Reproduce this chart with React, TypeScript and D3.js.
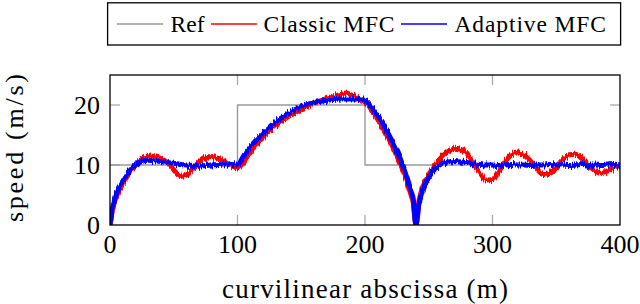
import React from "react";
import * as d3 from "d3";

// curvilinear abscissa (m) at which the speeds were read
const abscissa = [
  0, 2, 5, 10, 15, 20, 25, 30, 35, 40, 45, 50, 55, 60, 65, 70, 75, 80, 85, 90, 95, 100,
  105, 110, 115, 120, 125, 130, 135, 140, 145, 150, 155, 160, 165, 170, 175, 180, 185, 190, 195, 200,
  205, 210, 215, 220, 225, 230, 235, 238, 240, 242, 245,
  250, 255, 260, 265, 270, 275, 280, 285, 290, 295, 300, 305, 310, 315, 320, 325, 330, 335, 340,
  345, 350, 355, 360, 365, 370, 375, 380, 385, 390, 395, 400,
];

const classicMFC = [
  0, 2.6, 4.6, 6.9, 8.6, 10, 11, 11.5, 11.4, 11.1, 10.4, 9.2, 8.1, 8.3, 9.4, 10.5, 11.2, 11.4, 11.1, 10.6, 10, 9.5,
  10.6, 12.2, 13.5, 14.6, 15.7, 16.6, 17.4, 18.1, 18.7, 19.3, 19.8, 20.3, 20.7, 21.1, 21.5, 21.9, 22, 21.6, 21, 20.5,
  19.3, 17.6, 15.8, 13.8, 11.5, 9, 5.8, 3.4, 0, 3.5, 6.2,
  8.4, 10, 11.3, 12.2, 12.8, 12.6, 11.8, 10.3, 8.8, 7.5, 7.6, 8.9, 10.6, 11.7, 12, 11.6, 10.6, 9.3, 8.4,
  8.6, 9.7, 10.9, 11.7, 11.8, 11.1, 10, 9.1, 8.6, 8.8, 9.6, 10,
];

const adaptiveMFC = [
  0, 3, 5.2, 7.3, 8.9, 10, 10.6, 10.8, 10.7, 10.6, 10.4, 10.3, 10.1, 10, 9.9, 9.8, 9.9, 10, 10.1, 10.2, 10.1, 10,
  11.6, 13, 14.2, 15.3, 16.3, 17.2, 17.9, 18.6, 19.2, 19.7, 20.1, 20.4, 20.6, 20.8, 20.9, 21, 21, 21, 20.9, 20.8,
  19.8, 18.3, 16.5, 14.5, 12.3, 9.8, 6.5, 4, 0, 3, 5.6,
  7.9, 9.4, 10.2, 10.5, 10.6, 10.5, 10.4, 10.2, 10.1, 10, 10, 9.9, 10, 10.1, 10, 10, 9.9, 10, 10,
  10.1, 10, 10, 9.9, 10, 10.1, 10, 10, 9.9, 10, 10.1, 10,
];

// reference speed: piecewise constant, value holds from each break on
const refBreaks = [0, 100, 200, 400];
const refSpeed = [10, 20, 10, 10];

const xTicks = [0, 100, 200, 300, 400];
const yTicks = [0, 10, 20];

const legendItems = [
  { label: "Ref", color: "#999999", x0: 117, text: 170.5, len: 34 },
  { label: "Classic MFC", color: "#ff0000", x0: 211, text: 263.5, len: 131 },
  { label: "Adaptive MFC", color: "#0000ff", x0: 401, text: 454.5, len: 151.5 },
];

const FONT = "'Liberation Serif', 'Times New Roman', serif";

export default function App() {
  const L = 110, R = 620, T = 75, B = 225;
  const x = d3.scaleLinear().domain([0, 400]).range([L, R]);
  const y = d3.scaleLinear().domain([0, 25]).range([B, T]);

  const line = d3
    .line<number>()
    .x((_, i) => x(abscissa[i]))
    .y((d) => y(d))
    .curve(d3.curveMonotoneX);

  const refLine = d3
    .line<number>()
    .x((_, i) => x(refBreaks[i]))
    .y((d) => y(d))
    .curve(d3.curveStepAfter);

  const tickLen = 10;

  return (
    <svg
      width={640}
      height={304}
      style={{ position: "absolute", left: 0, top: 0, background: "#fff" }}
      fontFamily={FONT}
    >
      <defs>
        <clipPath id="plotclip">
          <rect x={L} y={T} width={R - L} height={B - T} />
        </clipPath>
        {/* measurement-noise texture: jitters the stroke vertically */}
        <filter id="jitterA" x="-2%" y="-10%" width="104%" height="120%">
          <feTurbulence type="fractalNoise" baseFrequency="0.9 0.05" numOctaves={2} seed={3} result="n" />
          <feColorMatrix in="n" type="matrix" values="1 0 0 0 0  0 0 0 0 0.5  0 0 0 0 0  0 0 0 0 1" result="m" />
          <feDisplacementMap in="SourceGraphic" in2="m" scale={8} xChannelSelector="G" yChannelSelector="R" />
        </filter>
        <filter id="jitterB" x="-2%" y="-10%" width="104%" height="120%">
          <feTurbulence type="fractalNoise" baseFrequency="0.9 0.05" numOctaves={2} seed={11} result="n" />
          <feColorMatrix in="n" type="matrix" values="1 0 0 0 0  0 0 0 0 0.5  0 0 0 0 0  0 0 0 0 1" result="m" />
          <feDisplacementMap in="SourceGraphic" in2="m" scale={8} xChannelSelector="G" yChannelSelector="R" />
        </filter>
      </defs>

      {/* inner tick marks */}
      <g stroke="#aaaaaa" strokeWidth={1.3}>
        {xTicks.slice(1, -1).map((t) => (
          <g key={"xt" + t}>
            <line x1={x(t)} x2={x(t)} y1={B} y2={B - tickLen} />
            <line x1={x(t)} x2={x(t)} y1={T} y2={T + tickLen} />
          </g>
        ))}
        {yTicks.slice(1).map((t) => (
          <g key={"yt" + t}>
            <line x1={L} x2={L + tickLen} y1={y(t)} y2={y(t)} />
            <line x1={R} x2={R - tickLen} y1={y(t)} y2={y(t)} />
          </g>
        ))}
      </g>

      <g clipPath="url(#plotclip)">
        <g fill="none" strokeLinejoin="round" strokeLinecap="round">
          <path d={refLine(refSpeed) || ""} stroke="#999999" strokeWidth={1.4} strokeLinecap="butt" />
          <path d={line(classicMFC) || ""} stroke="#ff0000" strokeWidth={5} filter="url(#jitterA)" />
          <path d={line(adaptiveMFC) || ""} stroke="#0000ff" strokeWidth={5} filter="url(#jitterB)" />
        </g>
      </g>

      {/* frame */}
      <rect x={L} y={T} width={R - L} height={B - T} fill="none" stroke="#000" strokeWidth={1.3} />

      {/* tick labels */}
      <g fontSize={26} fill="#000">
        {xTicks.map((t) => (
          <text key={"xl" + t} x={x(t)} y={252.5} textAnchor="middle">
            {t}
          </text>
        ))}
        {yTicks.map((t) => (
          <text key={"yl" + t} x={L - 10} y={y(t) + 8.5} textAnchor="end">
            {t}
          </text>
        ))}
      </g>

      {/* axis labels */}
      <text x={(L + R) / 2} y={298} textAnchor="middle" fontSize={27} textLength={286} lengthAdjust="spacing">
        curvilinear abscissa (m)
      </text>
      <text
        transform={`translate(23,148) rotate(-90)`}
        textAnchor="middle"
        fontSize={26}
        textLength={148}
        lengthAdjust="spacing"
      >
        speed (m/s)
      </text>

      {/* legend */}
      <rect x={107.6} y={2.8} width={513} height={42.2} fill="#fff" stroke="#000" strokeWidth={1.3} />
      {legendItems.map((it) => (
        <g key={it.label}>
          <line x1={it.x0} x2={it.x0 + 46} y1={24} y2={24} stroke={it.color} strokeWidth={1.6} />
          <text x={it.text} y={31.5} fontSize={23.5} textLength={it.len} lengthAdjust="spacing">
            {it.label}
          </text>
        </g>
      ))}
    </svg>
  );
}
